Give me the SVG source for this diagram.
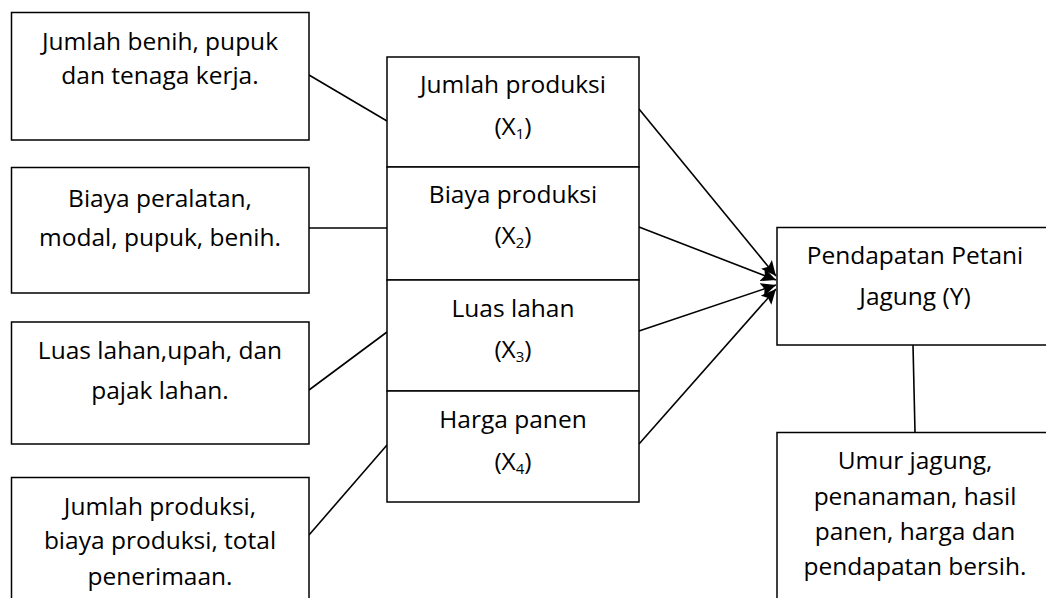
<svg xmlns="http://www.w3.org/2000/svg" width="1046" height="598" viewBox="0 0 1046 598">
<defs>
<style>
.box{fill:#fff;stroke:#000;stroke-width:1.5}
.t{font-family:"Open Sans","Liberation Sans",sans-serif;font-size:24.5px;fill:#000;text-anchor:middle}
.c{fill:none;stroke:#000;stroke-width:1.6}
</style>
<marker id="ah" viewBox="0 0 15 14" refX="15" refY="7" markerWidth="15" markerHeight="14" markerUnits="userSpaceOnUse" orient="auto">
<path d="M0,0 L15,7 L0,14 L3,7 Z" fill="#000"/>
</marker>
</defs>
<rect width="1046" height="598" fill="#fff"/>
<g id="connectors">
<line class="c" x1="309" y1="75" x2="387" y2="121"/>
<line class="c" x1="309" y1="228" x2="387" y2="228"/>
<line class="c" x1="309" y1="390" x2="387" y2="332"/>
<line class="c" x1="309" y1="535" x2="387" y2="445"/>
<line class="c" x1="639" y1="109" x2="776" y2="276" marker-end="url(#ah)"/>
<line class="c" x1="639" y1="227" x2="776" y2="280" marker-end="url(#ah)"/>
<line class="c" x1="639" y1="331" x2="776" y2="285" marker-end="url(#ah)"/>
<line class="c" x1="639" y1="444" x2="776" y2="289" marker-end="url(#ah)"/>
<line class="c" x1="913" y1="345" x2="915" y2="432"/>
</g>
<g id="n1"><rect class="box" x="11.5" y="12.5" width="297.5" height="127.5"/>
<text class="t" x="160" y="50">Jumlah benih, pupuk</text><text class="t" x="160" y="84">dan tenaga kerja.</text></g>
<g id="n2"><rect class="box" x="11.5" y="167.5" width="297.5" height="125.5"/>
<text class="t" x="160" y="207">Biaya peralatan,</text><text class="t" x="160" y="246">modal, pupuk, benih.</text></g>
<g id="n3"><rect class="box" x="11.5" y="322" width="297.5" height="122"/>
<text class="t" x="160" y="359">Luas lahan,upah, dan</text><text class="t" x="160" y="399">pajak lahan.</text></g>
<g id="n4"><rect class="box" x="11.5" y="477.5" width="297.5" height="130"/>
<text class="t" x="160" y="515">Jumlah produksi,</text><text class="t" x="160" y="549">biaya produksi, total</text><text class="t" x="160" y="585">penerimaan.</text></g>
<g id="x1"><rect class="box" x="387" y="57" width="252" height="110"/>
<text class="t" x="513" y="93">Jumlah produksi</text><text class="t" x="513" y="135">(X<tspan font-size="15" dy="4">1</tspan><tspan dy="-4">)</tspan></text></g>
<g id="x2"><rect class="box" x="387" y="167" width="252" height="113"/>
<text class="t" x="513" y="203">Biaya produksi</text><text class="t" x="513" y="244">(X<tspan font-size="15" dy="4">2</tspan><tspan dy="-4">)</tspan></text></g>
<g id="x3"><rect class="box" x="387" y="280" width="252" height="111"/>
<text class="t" x="513" y="317">Luas lahan</text><text class="t" x="513" y="358">(X<tspan font-size="15" dy="4">3</tspan><tspan dy="-4">)</tspan></text></g>
<g id="x4"><rect class="box" x="387" y="391" width="252" height="111"/>
<text class="t" x="513" y="428">Harga panen</text><text class="t" x="513" y="470">(X<tspan font-size="15" dy="4">4</tspan><tspan dy="-4">)</tspan></text></g>
<g id="y"><rect class="box" x="777" y="227.5" width="280" height="117.5"/>
<text class="t" x="915" y="264">Pendapatan Petani</text><text class="t" x="915" y="305">Jagung (Y)</text></g>
<g id="ind"><rect class="box" x="777" y="432.5" width="280" height="180"/>
<text class="t" x="915" y="469">Umur jagung,</text><text class="t" x="915" y="505">penanaman, hasil</text><text class="t" x="915" y="540">panen, harga dan</text><text class="t" x="915" y="575">pendapatan bersih.</text></g>
</svg>
